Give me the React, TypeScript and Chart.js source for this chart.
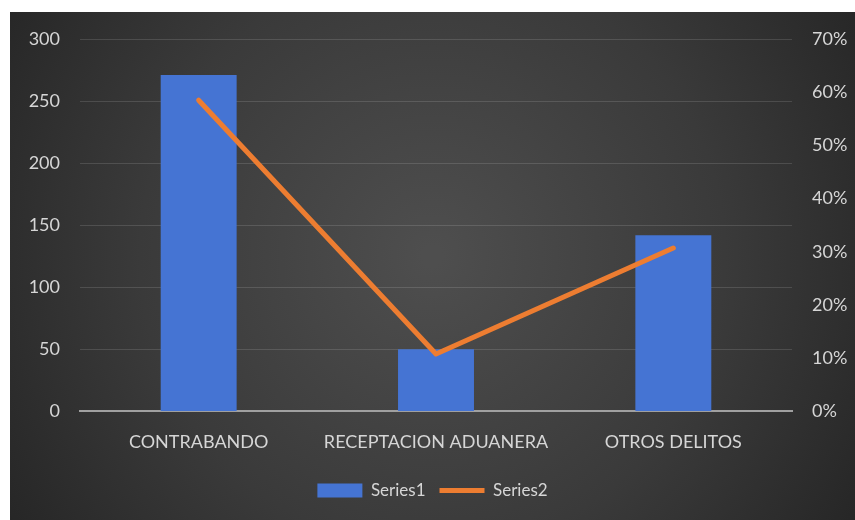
import React, { useEffect, useRef } from "react";
import { Chart, registerables } from "chart.js";

Chart.register(...registerables);

const categories = ["CONTRABANDO", "RECEPTACION ADUANERA", "OTROS DELITOS"];
const series1 = [271, 50, 142];
const series2 = [0.585, 0.108, 0.307];
const series1Name = "Series1";
const series2Name = "Series2";

const TEXT = "#d6d6d6";
const FONT = "Lato, 'Open Sans', sans-serif";

const bgPlugin = {
  id: "bgGradient",
  beforeDraw(chart: any) {
    const { ctx, width, height } = chart;
    ctx.save();
    const g = ctx.createRadialGradient(width * 0.5, height * 0.48, 10, width * 0.5, height * 0.48, width * 0.62);
    g.addColorStop(0, "#4e4e4e");
    g.addColorStop(0.55, "#3a3a3a");
    g.addColorStop(1, "#242424");
    ctx.fillStyle = g;
    ctx.fillRect(0, 0, width, height);
    ctx.restore();
  },
};

export default function App() {
  const ref = useRef<HTMLCanvasElement | null>(null);
  useEffect(() => {
    if (!ref.current) return;
    const chart = new Chart(ref.current, {
      type: "bar",
      data: {
        labels: categories,
        datasets: [
          {
            type: "bar",
            label: series1Name,
            data: series1,
            backgroundColor: "#4574d3",
            yAxisID: "y",
            order: 1,
            barPercentage: 0.64,
            categoryPercentage: 0.5,
            pointStyle: "rect",
          } as any,
          {
            type: "line",
            label: series2Name,
            data: series2,
            borderColor: "#ED7D31",
            backgroundColor: "#ED7D31",
            borderWidth: 5,
            pointRadius: 0,
            yAxisID: "y1",
            order: 0,
            pointStyle: "line",
            borderCapStyle: "round",
            borderJoinStyle: "round",
          } as any,
        ],
      },
      options: {
        animation: false,
        responsive: true,
        maintainAspectRatio: false,
        layout: { padding: { top: 27, left: 0, right: 0, bottom: 11 } },
        plugins: {
          tooltip: { enabled: false },
          legend: {
            position: "bottom",
            labels: {
              usePointStyle: true,
              pointStyleWidth: 45,
              boxHeight: 14,
              color: TEXT,
              font: { family: FONT, size: 17 },
              padding: 14,
              sort: (a: any, b: any) => a.datasetIndex - b.datasetIndex,
            },
          },
        },
        scales: {
          x: {
            grid: { display: false },
            border: { display: true, color: "#a0a0a0", width: 2 },
            ticks: { color: TEXT, font: { family: FONT, size: 18 }, padding: 12, maxRotation: 0 },
            afterFit: (s: any) => { s.height += 3; },
          },
          y: {
            position: "left",
            min: 0,
            max: 300,
            ticks: { stepSize: 50, color: TEXT, font: { family: FONT, size: 18 }, padding: 20 },
            grid: { color: "rgba(255,255,255,0.13)", drawTicks: false, lineWidth: 1 },
            border: { display: false },
            afterFit: (s: any) => { s.width = 70; s.paddingTop = 11; s.paddingBottom = 11; },
          },
          y1: {
            position: "right",
            min: 0,
            max: 0.7,
            ticks: {
              stepSize: 0.1,
              color: TEXT,
              font: { family: FONT, size: 18 },
              padding: 20,
              callback: (v: any) => Math.round(Number(v) * 100) + "%",
            },
            grid: { display: false, drawTicks: false },
            border: { display: false },
            afterFit: (s: any) => { s.width = 63; s.paddingTop = 11; s.paddingBottom = 11; },
          },
        },
      },
      plugins: [bgPlugin],
    });
    return () => chart.destroy();
  }, []);
  return (
    <div style={{ position: "fixed", left: 10, top: 12, width: 845, height: 508 }}>
      <canvas ref={ref} />
    </div>
  );
}
